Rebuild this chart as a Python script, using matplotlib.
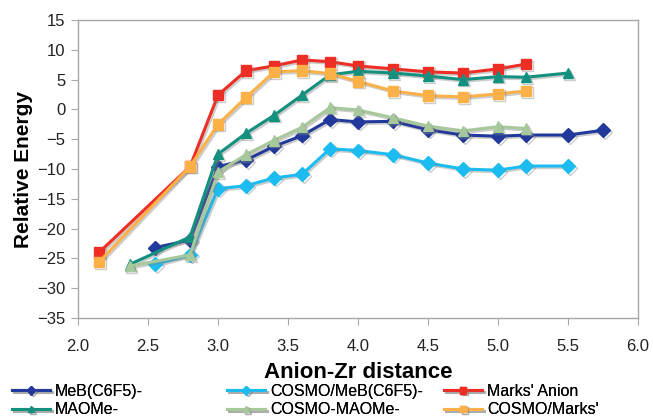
import matplotlib
matplotlib.use("Agg")
import matplotlib.pyplot as plt
import matplotlib.patheffects as pe

plt.rcParams['font.family'] = ['Liberation Sans', 'DejaVu Sans']

# Series (x = Anion-Zr distance, y = relative energy)
x_meb = [2.55, 2.8, 3.0, 3.2, 3.4, 3.6, 3.8, 4.0, 4.25, 4.5, 4.75, 5.0, 5.2, 5.5, 5.75]
y_meb = [-23.2, -21.9, -9.6, -8.5, -6.2, -4.4, -1.7, -2.1, -2.0, -3.4, -4.3, -4.5, -4.3, -4.3, -3.5]

x_cosmo_meb = [2.55, 2.8, 3.0, 3.2, 3.4, 3.6, 3.8, 4.0, 4.25, 4.5, 4.75, 5.0, 5.2, 5.5]
y_cosmo_meb = [-26.0, -24.4, -13.3, -12.8, -11.5, -10.9, -6.6, -6.9, -7.6, -9.0, -10.0, -10.2, -9.5, -9.5]

x_marks = [2.15, 2.8, 3.0, 3.2, 3.4, 3.6, 3.8, 4.0, 4.25, 4.5, 4.75, 5.0, 5.2]
y_marks = [-24.0, -9.6, 2.4, 6.5, 7.3, 8.3, 8.0, 7.3, 6.8, 6.3, 6.1, 6.8, 7.6]

x_mao = [2.37, 2.8, 3.0, 3.2, 3.4, 3.6, 3.8, 4.0, 4.25, 4.5, 4.75, 5.0, 5.2, 5.5]
y_mao = [-26.0, -21.4, -7.5, -4.0, -1.0, 2.4, 5.8, 6.4, 6.1, 5.6, 5.0, 5.5, 5.4, 6.1]

x_cosmo_mao = [2.37, 2.8, 3.0, 3.2, 3.4, 3.6, 3.8, 4.0, 4.25, 4.5, 4.75, 5.0, 5.2]
y_cosmo_mao = [-26.3, -24.4, -10.5, -7.6, -5.2, -3.0, 0.3, -0.1, -1.4, -2.8, -3.6, -2.9, -3.2]

x_cosmo_marks = [2.15, 2.8, 3.0, 3.2, 3.4, 3.6, 3.8, 4.0, 4.25, 4.5, 4.75, 5.0, 5.2]
y_cosmo_marks = [-25.6, -9.6, -2.5, 2.0, 6.3, 6.5, 6.0, 4.7, 3.1, 2.3, 2.1, 2.6, 3.1]

labels = ["MeB(C6F5)-", "COSMO/MeB(C6F5)-", "Marks' Anion",
          "MAOMe-", "COSMO-MAOMe-", "COSMO/Marks'"]

fig = plt.figure(figsize=(6.53, 4.18), dpi=100)
ax = fig.add_axes([78 / 653, 1 - 318 / 418, 560 / 653, 298 / 418])

shadow = [pe.SimpleLineShadow(offset=(1.2, -1.2), shadow_color='gray', alpha=0.4), pe.Normal()]

series = [
    (x_meb, y_meb, '#21399a', 'D', 7),
    (x_cosmo_meb, y_cosmo_meb, '#1cbcf0', 'D', 7),
    (x_marks, y_marks, '#ee2e24', 's', 7.5),
    (x_mao, y_mao, '#14907f', '^', 7.5),
    (x_cosmo_mao, y_cosmo_mao, '#a6c89a', '^', 7.5),
    (x_cosmo_marks, y_cosmo_marks, '#fbb148', 's', 7.5),
]

lines = []
for (xs, ys, c, m, ms), lab in zip(series, labels):
    ln, = ax.plot(xs, ys, color=c, marker=m, markersize=ms, linewidth=2.2,
                  label=lab, path_effects=shadow)
    lines.append(ln)

ax.set_xlim(2.0, 6.0)
ax.set_ylim(-35, 15)
ax.set_xticks([2.0, 2.5, 3.0, 3.5, 4.0, 4.5, 5.0, 5.5, 6.0])
ax.set_xticklabels([f'{v:.1f}' for v in ax.get_xticks()])
ax.set_yticks(range(-35, 16, 5))

for s in ax.spines.values():
    s.set_color('#a8a8a8')
    s.set_linewidth(1)
ax.tick_params(axis='both', direction='out', length=5, color='#a8a8a8',
               labelsize=12, labelcolor='#222222')
ax.tick_params(axis='y', pad=4)
ax.tick_params(axis='x', pad=10)

ax.set_xlabel('Anion-Zr distance', fontsize=16, fontweight='bold', labelpad=6)
ax.set_ylabel('Relative Energy', fontsize=15, fontweight='bold', labelpad=3)

# legend: three fixed columns like the original
col_x = [4 / 653, 219 / 653, 436 / 653]
for i, cx in enumerate(col_x):
    handles = [lines[i], lines[i + 3]]
    leg = fig.legend(handles, [h.get_label() for h in handles], loc='upper left',
                     bbox_to_anchor=(cx, 1 - 376 / 418), frameon=False,
                     fontsize=11.5, handlelength=2.4, handletextpad=0.3,
                     labelspacing=0.22, borderpad=0, markerscale=0.6)
    fig.add_artist(leg)

fig.savefig('out.png', dpi=100)
